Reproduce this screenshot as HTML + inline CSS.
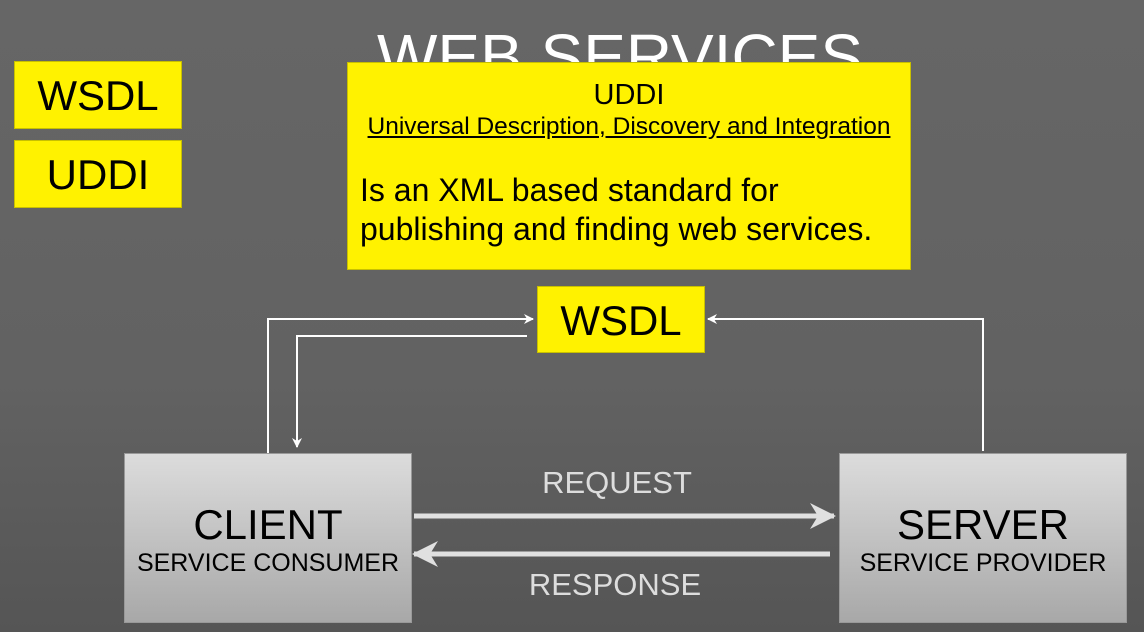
<!DOCTYPE html>
<html><head><meta charset="utf-8"><style>
body{margin:0;width:1144px;height:632px;overflow:hidden;background:linear-gradient(#666 0%,#626262 60%,#555 100%);font-family:"Liberation Sans",sans-serif;position:relative}
.a{position:absolute}
.y{background:#fff200;border:1px solid #c8c000;box-sizing:border-box;color:#000;text-align:center}
.g{background:linear-gradient(#dcdcdc,#a8a8a8);border:1px solid #999;box-sizing:border-box;text-align:center;color:#000}
</style></head><body>
<div class="a" style="left:370px;top:22px;width:500px;text-align:center;color:#fff;font-size:64px;line-height:70px;letter-spacing:0px">WEB SERVICES</div>
<div class="a y" style="left:14px;top:61px;width:168px;height:68px;font-size:42px;line-height:68px">WSDL</div>
<div class="a y" style="left:14px;top:140px;width:168px;height:68px;font-size:42px;line-height:68px">UDDI</div>
<div class="a y" style="left:347px;top:62px;width:564px;height:208px">
 <div style="font-size:29px;margin-top:15px;line-height:34px">UDDI</div>
 <div style="font-size:24.5px;text-decoration:underline;line-height:28px;margin-top:1px;white-space:nowrap">Universal Description, Discovery and Integration</div>
 <div style="font-size:32px;text-align:left;padding-left:12px;line-height:39px;margin-top:30px;white-space:nowrap">Is an XML based standard for<br>publishing and finding web services.</div>
</div>
<div class="a y" style="left:537px;top:286px;width:168px;height:67px;font-size:42px;line-height:67px">WSDL</div>
<svg class="a" style="left:0;top:0" width="1144" height="632">
<defs>
<marker id="m" markerWidth="10" markerHeight="10" refX="9" refY="5" orient="auto" markerUnits="userSpaceOnUse"><path d="M0,0 L10,5 L0,10 L3,5z" fill="#fff"/></marker>
<marker id="b" markerWidth="26" markerHeight="26" refX="24" refY="13" orient="auto" markerUnits="userSpaceOnUse"><path d="M0,0 L26,13 L0,26 L8,13z" fill="#e0e0e0"/></marker>
</defs>
<g stroke="#fff" stroke-width="2" fill="none">
<polyline points="268,453 268,319 533,319" marker-end="url(#m)"/>
<polyline points="527,336 297,336 297,447" marker-end="url(#m)"/>
<polyline points="983,451 983,319 708,319" marker-end="url(#m)"/>
</g>
<line x1="414" y1="516" x2="834" y2="516" stroke="#e0e0e0" stroke-width="5" marker-end="url(#b)"/>
<line x1="830" y1="554" x2="414" y2="554" stroke="#e0e0e0" stroke-width="5" marker-end="url(#b)"/>
</svg>
<div class="a" style="left:480px;top:465px;width:274px;text-align:center;color:#ddd;font-size:31px">REQUEST</div>
<div class="a" style="left:475px;top:567px;width:280px;text-align:center;color:#ddd;font-size:31px">RESPONSE</div>
<div class="a g" style="left:124px;top:453px;width:288px;height:170px">
 <div style="font-size:42px;margin-top:47px;line-height:48px">CLIENT</div>
 <div style="font-size:25px;line-height:28px;margin-top:0px;white-space:nowrap">SERVICE CONSUMER</div>
</div>
<div class="a g" style="left:839px;top:453px;width:288px;height:170px">
 <div style="font-size:42px;margin-top:47px;line-height:48px">SERVER</div>
 <div style="font-size:25px;line-height:28px;margin-top:0px;white-space:nowrap">SERVICE PROVIDER</div>
</div>
</body></html>
